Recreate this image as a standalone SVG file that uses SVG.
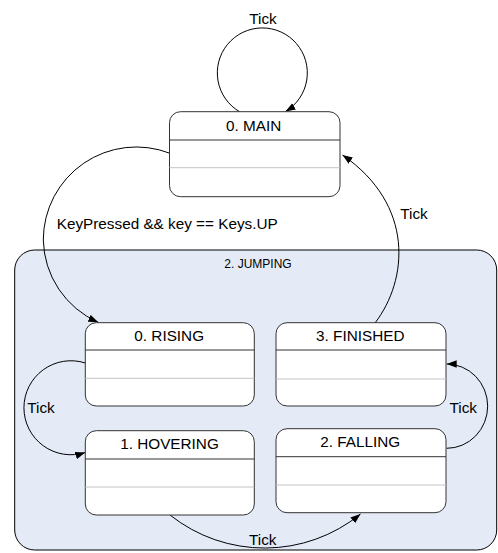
<svg xmlns="http://www.w3.org/2000/svg" width="498" height="553" viewBox="0 0 498 553">
<style>
text{font-family:"Liberation Sans",Arial,sans-serif;fill:#000;}
.t{font-size:15.3px;}
.c{text-anchor:middle;}
.box{fill:#fff;stroke:#333;stroke-width:1;}
.hd{stroke:#333;stroke-width:1;}
.sep{stroke:#c4c4c4;stroke-width:1;}
.edge{fill:none;stroke:#000;stroke-width:1;marker-end:url(#arr);}
</style>
<defs>
<marker id="arr" markerUnits="userSpaceOnUse" markerWidth="11" markerHeight="8" refX="10" refY="3.75" orient="auto">
<path d="M0,0 L10,3.75 L0,7.5 z" fill="#000"/>
</marker>
</defs>
<rect width="498" height="553" fill="#fff"/>
<g id="jumping">
<rect x="14.7" y="250" width="482" height="300" rx="20" ry="20" fill="#e4ebf6" stroke="#000" stroke-width="1"/>
<text x="258" y="267.5" class="c" style="font-size:12px">2. JUMPING</text>
</g>
<g id="connectors">
<path class="edge" d="M240 112 A45 45 0 1 1 285.5 111.5"/>
<text x="263" y="24" class="t c">Tick</text>
<path class="edge" d="M170 153.3 A93 93 0 0 0 43.3 240 A92 92 0 0 0 98.3 322.3"/>
<text x="56.7" y="228.8" class="t">KeyPressed &amp;&amp; key == Keys.UP</text>
<path class="edge" d="M375 323 C408 280 415 205 342.5 155"/>
<text x="414" y="219" class="t c">Tick</text>
<path class="edge" d="M85.3 363 A47 47 0 1 0 85.3 452.5"/>
<text x="41" y="412.7" class="t c">Tick</text>
<path class="edge" d="M170 515 A152 152 0 0 0 360.5 514"/>
<text x="262.7" y="545" class="t c">Tick</text>
<path class="edge" d="M446.7 448.3 A41 42.15 0 0 0 446.7 364"/>
<text x="463.3" y="413.3" class="t c">Tick</text>
</g>
<g id="main">
<rect class="box" x="169.5" y="111.7" width="170.5" height="85" rx="11"/>
<line class="hd" x1="169.5" y1="140" x2="340" y2="140"/>
<line class="sep" x1="169.5" y1="167.7" x2="340" y2="167.7"/>
<text x="253.7" y="130.7" class="t c">0. MAIN</text>
</g>
<g id="rising">
<rect class="box" x="85.3" y="322.7" width="169" height="83.3" rx="11"/>
<line class="hd" x1="85.3" y1="350" x2="254.3" y2="350"/>
<line class="sep" x1="85.3" y1="378.3" x2="254.3" y2="378.3"/>
<text x="169.2" y="340.7" class="t c">0. RISING</text>
</g>
<g id="finished">
<rect class="box" x="276" y="322.7" width="170" height="83.3" rx="11"/>
<line class="hd" x1="276" y1="350" x2="446" y2="350"/>
<line class="sep" x1="276" y1="379" x2="446" y2="379"/>
<text x="360.3" y="340.7" class="t c">3. FINISHED</text>
</g>
<g id="hovering">
<rect class="box" x="85.3" y="430.7" width="169" height="84.3" rx="11"/>
<line class="hd" x1="85.3" y1="459" x2="254.3" y2="459"/>
<line class="sep" x1="85.3" y1="487" x2="254.3" y2="487"/>
<text x="169.5" y="448.7" class="t c">1. HOVERING</text>
</g>
<g id="falling">
<rect class="box" x="276" y="428.7" width="170" height="84" rx="11"/>
<line class="hd" x1="276" y1="456.7" x2="446" y2="456.7"/>
<line class="sep" x1="276" y1="485" x2="446" y2="485"/>
<text x="360.2" y="446.7" class="t c">2. FALLING</text>
</g>
</svg>
